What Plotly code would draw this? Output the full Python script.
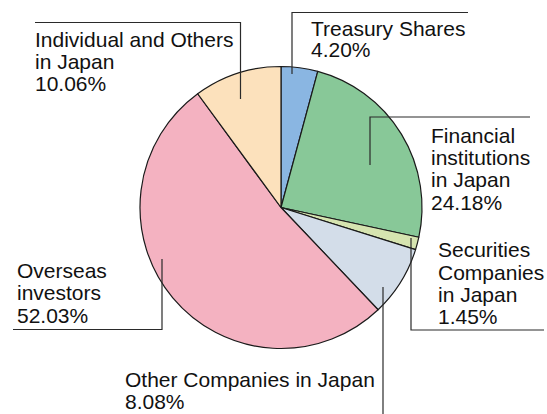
import plotly.graph_objects as go

# Shareholder composition (clockwise from 12 o'clock)
categories = [
    "Treasury Shares",
    "Financial institutions in Japan",
    "Securities Companies in Japan",
    "Other Companies in Japan",
    "Overseas investors",
    "Individual and Others in Japan",
]
shares = [4.20, 24.18, 1.45, 8.08, 52.03, 10.06]
colors = ["#8ab6e2", "#88c898", "#d6e4b0", "#d3dde9", "#f4b2c1", "#fce1bc"]

# how each category name is broken into lines in its label
label_lines = [
    ["Treasury Shares"],
    ["Financial", "institutions", "in Japan"],
    ["Securities", "Companies", "in Japan"],
    ["Other Companies in Japan"],
    ["Overseas", "investors"],
    ["Individual and Others", "in Japan"],
]

W, H = 547, 414
CX, CY, R = 281, 207.5, 141

fig = go.Figure(go.Pie(
    labels=categories,
    values=shares,
    sort=False,
    direction="clockwise",
    rotation=0,
    marker=dict(colors=colors, line=dict(color="#1a1a1a", width=1.2)),
    textinfo="none",
    hoverinfo="label+percent",
    showlegend=False,
    domain=dict(x=[(CX - R) / W, (CX + R) / W],
                y=[1 - (CY + R) / H, 1 - (CY - R) / H]),
))

# label placement: left x and vertical centre of each text line (px)
label_pos = [
    (309.5, [28.5, 50.0]),
    (429.5, [135.0, 157.5, 180.0, 202.5]),
    (437, [249.8, 272.1, 294.5, 316.2]),
    (123.5, [379.5, 401.2]),
    (15.5, [270.5, 292.8, 315.5]),
    (33.5, [39.5, 61.5, 83.5]),
]

# leader lines as polylines (px)
leaders = [
    [(292, 74), (292, 12.5), (468, 12.5)],
    [(370, 165), (370, 117), (530, 117)],
    [(411, 238), (411, 330), (544, 330)],
    [(383, 287), (383, 414)],
    [(162, 259), (162, 329.5), (13, 329.5)],
    [(240.5, 99), (240.5, 22.5), (35, 22.5)],
]

annotations = []
for name_lines, value, (lx, ys) in zip(label_lines, shares, label_pos):
    lines = name_lines + [f"{value:.2f}%"]
    for txt, yc in zip(lines, ys):
        annotations.append(dict(
            x=lx / W, y=1 - yc / H, xref="paper", yref="paper",
            xanchor="left", yanchor="middle", text=txt, showarrow=False,
            font=dict(family="Liberation Sans, Arial, sans-serif", size=21, color="#111111"),
            borderpad=0,
        ))

shapes = []
for pts in leaders:
    path = "M " + " L ".join(f"{x / W:.5f},{1 - y / H:.5f}" for x, y in pts)
    shapes.append(dict(type="path", path=path, xref="paper", yref="paper",
                       line=dict(color="#2a2a2a", width=1.2)))

fig.update_layout(
    width=W, height=H,
    margin=dict(l=0, r=0, t=0, b=0),
    paper_bgcolor="white", plot_bgcolor="white",
    annotations=annotations, shapes=shapes,
)

fig.write_html("out.html")
